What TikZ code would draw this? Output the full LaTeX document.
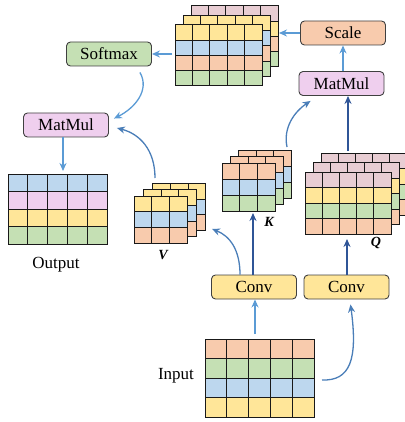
\documentclass[tikz,border=0pt]{standalone}
\usepackage{fontspec}
\setmainfont{Liberation Serif}
\usetikzlibrary{arrows.meta}
\definecolor{cOrange}{HTML}{F8CBAD}
\definecolor{cGreen}{HTML}{C5E0B4}
\definecolor{cBlue}{HTML}{BDD7EE}
\definecolor{cYellow}{HTML}{FFE699}
\definecolor{cRose}{HTML}{E8CDD3}
\definecolor{cPink}{HTML}{EFCFEE}
\definecolor{aLight}{HTML}{5B9BD5}
\definecolor{aMid}{HTML}{4A7EB8}
\definecolor{aDark}{HTML}{2F5597}

% one layer of a feature map: left, top, cell width, cell height, columns, row colours
\newcommand{\slab}[6]{%
  \foreach \col [count=\ri from 0] in {#6}
    \foreach \k in {1,...,#5}
      \filldraw[cell,fill=\col] ({#1+(\k-1)*#3},{#2+\ri*#4}) rectangle ++(#3,#4);
}

\begin{document}
\begin{tikzpicture}[x=1pt,y=-1pt,
    cell/.style={draw=black!90,line width=1pt},
    box/.style={draw=black!75,line width=0.9pt,rounded corners=4pt,inner sep=0pt,
      minimum height=24pt,minimum width=85pt,font=\fontsize{17}{20}\selectfont},
    txt/.style={font=\fontsize{17}{20}\selectfont},
    tag/.style={font=\fontsize{14}{16}\selectfont\bfseries\itshape},
    arrLight/.style={-{Stealth[length=8pt,width=7pt]},aLight,line width=1.3pt},
    arrMid/.style={-{Stealth[length=8pt,width=7pt]},aMid,line width=1.3pt},
    arrDark/.style={-{Stealth[length=8pt,width=7pt]},aDark,line width=1.3pt}]

    \useasboundingbox (0,0) rectangle (404,422);

    % attention map
    \slab{191}{6}{17.4}{15.25}{5}{cRose,cYellow,cOrange,cGreen}
    \slab{183}{15.5}{17.4}{15.25}{5}{cYellow,cBlue,cOrange,cGreen}
    \slab{175}{25}{17.4}{15.25}{5}{cYellow,cBlue,cOrange,cGreen}
    % Q
    \slab{321}{153}{17.2}{15.5}{5}{cRose,cYellow,cGreen,cOrange}
    \slab{313}{162.5}{17.2}{15.5}{5}{cRose,cYellow,cGreen,cOrange}
    \slab{305}{172}{17.2}{15.5}{5}{cRose,cYellow,cGreen,cOrange}
    % K
    \slab{238.5}{150}{17.7}{16}{3}{cOrange,cBlue,cGreen}
    \slab{230.3}{156.5}{17.7}{16}{3}{cOrange,cBlue,cGreen}
    \slab{222}{163}{17.7}{16}{3}{cOrange,cBlue,cGreen}
    % V
    \slab{152.7}{183.3}{17.7}{15.7}{3}{cYellow,cBlue,cOrange}
    \slab{143.4}{189.6}{17.7}{15.7}{3}{cYellow,cBlue,cOrange}
    \slab{134}{196}{17.7}{15.7}{3}{cYellow,cBlue,cOrange}
    % output and input
    \slab{8}{174}{19.8}{17.5}{5}{cBlue,cPink,cYellow,cGreen}
    \slab{205}{339}{21.8}{19.5}{5}{cOrange,cGreen,cBlue,cYellow}

    \node[box,fill=cOrange] (scale) at (343,33) {Scale};
    \node[box,fill=cPink] (mulR) at (341.5,83.5) {MatMul};
    \node[box,fill=cGreen] (soft) at (109,54) {Softmax};
    \node[box,fill=cPink] (mulL) at (66,125) {MatMul};
    \node[box,fill=cYellow] (convK) at (254,287) {Conv};
    \node[box,fill=cYellow] (convQ) at (346.5,287) {Conv};

    \node[tag] (vName) at (163,255) {V};
    \node[tag] (kName) at (269,222) {K};
    \node[tag] (qName) at (376,243) {Q};
    \node[txt] (outName) at (56,265) {Output};
    \node[txt] (inName) at (176,376) {Input};

    \coordinate (topR) at (279,33);
    \coordinate (topL) at (172,54);
    \coordinate (kTop) at (287,147);
    \coordinate (qTop) at (348,151);
    \coordinate (kBot) at (253,213);
    \coordinate (vBot) at (212,229);
    \coordinate (qBot) at (347,239);
    \coordinate (vTop) at (155,178);
    \coordinate (outTop) at (63,171);
    \coordinate (inTop) at (255,334);
    \coordinate (inRight) at (322,380);

    \draw[arrLight] (scale.south |- mulR.north) -- (scale.south);
    \draw[arrLight] (scale.west) -- (topR);
    \draw[arrLight] (topL) -- (soft.east);
    \draw[arrLight] ([shift={(-12,6)}]soft.south east) .. controls (150,90) and (135,108) .. ([shift={(5,6)}]mulL.north east);
    \draw[arrMid] (vTop) .. controls (155,150) and (140,134) .. ([shift={(8,3)}]mulL.east);
    \draw[arrLight] (mulL.south -| outTop) -- (outTop);
    \draw[arrMid] (kTop) .. controls (283,128) and (294,112) .. ([shift={(12,5)}]mulR.south west);
    \draw[arrDark] (qTop) -- (qTop |- mulR.south);
    \draw[arrDark] (convK.north -| kBot) -- (kBot);
    \draw[arrMid] ([shift={(-14,0)}]convK.north) .. controls (240,250) and (230,236) .. (vBot);
    \draw[arrDark] (convQ.north -| qBot) -- (qBot);
    \draw[arrLight] (inTop) -- (inTop |- convK.south);
    \draw[arrMid] (inRight) .. controls (350,381) and (358,360) .. ([shift={(4,5)}]convQ.south);

\end{tikzpicture}
\end{document}
